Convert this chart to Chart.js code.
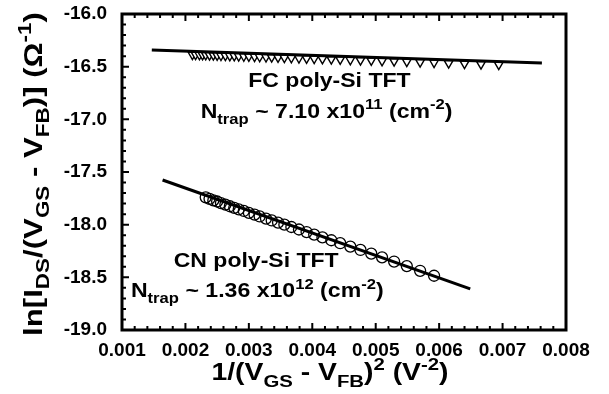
<!DOCTYPE html>
<html>
<head>
<meta charset="utf-8">
<script src="https://cdn.jsdelivr.net/npm/chart.js@4.4.1/dist/chart.umd.min.js"></script>
<style>
  html, body { margin: 0; padding: 0; background: #fff; }
  #wrap { width: 609px; height: 394px; }
</style>
</head>
<body>
<div id="wrap"><canvas id="trapChart" width="609" height="394"></canvas></div>
<script>
// x = 1/(VGS - VFB)^2 , y = ln[IDS/(VGS - VFB)]
const fcX = [0.00211, 0.00216, 0.00222, 0.00227, 0.00232, 0.00238, 0.00244, 0.00250, 0.00256, 0.00263,
             0.00270, 0.00277, 0.00284, 0.00292, 0.00300, 0.00309, 0.00317, 0.00327, 0.00336, 0.00346,
             0.00356, 0.00367, 0.00379, 0.00391, 0.00403, 0.00416, 0.00430, 0.00444, 0.00460, 0.00476,
             0.00493, 0.00510, 0.00529, 0.00549, 0.00570, 0.00592, 0.00615, 0.00640, 0.00666, 0.00694];
const fcY = [-16.385, -16.386, -16.387, -16.388, -16.389, -16.390, -16.391, -16.393, -16.394, -16.395,
             -16.397, -16.398, -16.399, -16.401, -16.403, -16.404, -16.406, -16.408, -16.410, -16.412,
             -16.414, -16.416, -16.418, -16.421, -16.423, -16.426, -16.429, -16.431, -16.435, -16.438,
             -16.441, -16.445, -16.448, -16.452, -16.457, -16.461, -16.466, -16.471, -16.476, -16.481];

const cnX = [0.00232, 0.00238, 0.00244, 0.00250, 0.00256, 0.00263, 0.00270, 0.00277, 0.00284, 0.00292,
             0.00300, 0.00309, 0.00317, 0.00327, 0.00336, 0.00346, 0.00356, 0.00367, 0.00379, 0.00391,
             0.00403, 0.00416, 0.00430, 0.00444, 0.00460, 0.00476, 0.00493, 0.00510, 0.00529, 0.00549,
             0.00570, 0.00592];
const cnY = [-17.740, -17.755, -17.770, -17.780, -17.795, -17.810, -17.825, -17.840, -17.855, -17.870,
             -17.888, -17.905, -17.922, -17.942, -17.960, -17.980, -18.000, -18.022, -18.046, -18.070,
             -18.094, -18.120, -18.148, -18.176, -18.208, -18.240, -18.275, -18.310, -18.350, -18.393,
             -18.438, -18.485];

// linear fits (end points)
const fcFitX = [0.00147, 0.00762];
const fcFitY = [-16.342, -16.465];
const cnFitX = [0.00164, 0.00649];
const cnFitY = [-17.576, -18.610];

const xTickLabels = ['0.001', '0.002', '0.003', '0.004', '0.005', '0.006', '0.007', '0.008'];
const yTickLabels = ['-19.0', '-18.5', '-18.0', '-17.5', '-17.0', '-16.5', '-16.0'];

const FONT = '"Liberation Sans", Arial, Helvetica, sans-serif';
const pts = (xs, ys) => xs.map((x, i) => ({ x: x, y: ys[i] }));

// text with sub/superscripts
function drawRich(ctx, parts, x, y, size, opt) {
  const sx = opt.stretch || 1.15, sr = opt.subRatio || 0.72;
  ctx.save();
  ctx.translate(x, y);
  if (opt.rotate) ctx.rotate(opt.rotate);
  ctx.scale(sx, 1);
  ctx.fillStyle = '#000';
  ctx.textBaseline = 'alphabetic';
  ctx.textAlign = 'left';
  const segs = parts.map(([t, k]) => {
    const fs = k ? size * sr : size;
    ctx.font = 'bold ' + fs + 'px ' + FONT;
    return { t: t, k: k, fs: fs, w: ctx.measureText(t).width };
  });
  const total = segs.reduce((a, s) => a + s.w, 0);
  let cx = opt.align === 'center' ? -total / 2 : 0;
  segs.forEach(s => {
    ctx.font = 'bold ' + s.fs + 'px ' + FONT;
    const dy = s.k === 'sub' ? size * 0.28 : (s.k === 'sup' ? -size * 0.42 : 0);
    ctx.fillText(s.t, cx, dy);
    cx += s.w;
  });
  ctx.restore();
}

const frameTicks = {
  id: 'frameTicks',
  afterDatasetsDraw(chart) {
    const { ctx, chartArea: a, scales: { x, y } } = chart;
    ctx.save();
    ctx.strokeStyle = '#000';
    ctx.lineWidth = 2;
    ctx.beginPath();
    for (let i = 0; i <= 35; i++) {
      const px = x.getPixelForValue(0.001 + i * 0.0002);
      const len = i % 5 === 0 ? 7 : 4;
      ctx.moveTo(px, a.bottom); ctx.lineTo(px, a.bottom - len);
      ctx.moveTo(px, a.top); ctx.lineTo(px, a.top + len);
    }
    for (let i = 0; i <= 30; i++) {
      const py = y.getPixelForValue(-19 + i * 0.1);
      const len = i % 5 === 0 ? 7 : 4;
      ctx.moveTo(a.left, py); ctx.lineTo(a.left + len, py);
    }
    ctx.stroke();
    ctx.lineWidth = 3;
    ctx.strokeRect(a.left, a.top, a.right - a.left, a.bottom - a.top);
    ctx.restore();
  },
  afterDraw(chart) {
    const { ctx, scales: { x, y } } = chart;
    drawRich(ctx, [['FC poly-Si TFT', '']],
      x.getPixelForValue(0.00427), y.getPixelForValue(-16.69), 20, { align: 'center' });
    drawRich(ctx, [['N', ''], ['trap', 'sub'], [' ~ 7.10 x10', ''], ['11', 'sup'], [' (cm', ''], ['-2', 'sup'], [')', '']],
      x.getPixelForValue(0.00224), y.getPixelForValue(-16.99), 21, { align: 'left', stretch: 1.1 });
    drawRich(ctx, [['CN poly-Si TFT', '']],
      x.getPixelForValue(0.003115), y.getPixelForValue(-18.40), 20, { align: 'center' });
    drawRich(ctx, [['N', ''], ['trap', 'sub'], [' ~ 1.36 x10', ''], ['12', 'sup'], [' (cm', ''], ['-2', 'sup'], [')', '']],
      x.getPixelForValue(0.00114), y.getPixelForValue(-18.69), 21, { align: 'left', stretch: 1.1 });

    // axis titles
    drawRich(ctx, [['1/(V', ''], ['GS', 'sub'], [' - V', ''], ['FB', 'sub'], [')', ''], ['2', 'sup'], [' (V', ''], ['-2', 'sup'], [')', '']],
      330, 380, 24, { align: 'center', stretch: 1.18 });
    drawRich(ctx, [['ln[I', ''], ['DS', 'sub'], ['/(V', ''], ['GS', 'sub'], [' - V', ''], ['FB', 'sub'], [')] (\u03A9', ''], ['-1', 'sup'], [')', '']],
      42, 174, 26, { align: 'center', rotate: -Math.PI / 2, stretch: 1.2 });
  }
};

const ctx = document.getElementById('trapChart').getContext('2d');
new Chart(ctx, {
  data: {
    datasets: [
      { type: 'line', label: 'FC fit', data: pts(fcFitX, fcFitY), borderColor: '#000', borderWidth: 3,
        pointRadius: 0, fill: false, order: 0 },
      { type: 'line', label: 'CN fit', data: pts(cnFitX, cnFitY), borderColor: '#000', borderWidth: 3,
        pointRadius: 0, fill: false, order: 0 },
      { type: 'scatter', label: 'FC poly-Si TFT', data: pts(fcX, fcY), pointStyle: 'triangle', rotation: 180,
        pointRadius: 5, borderColor: '#000', borderWidth: 1.4, backgroundColor: '#fff', order: 1 },
      { type: 'scatter', label: 'CN poly-Si TFT', data: pts(cnX, cnY), pointStyle: 'circle',
        pointRadius: 5.5, borderColor: '#000', borderWidth: 1.3, backgroundColor: 'rgba(0,0,0,0)', order: 1 }
    ]
  },
  options: {
    responsive: false,
    devicePixelRatio: 1,
    animation: false,
    layout: { padding: { top: 0, right: 43, left: 0, bottom: 0 } },
    plugins: { legend: { display: false }, tooltip: { enabled: false } },
    scales: {
      x: {
        type: 'linear', min: 0.001, max: 0.008,
        grid: { display: false, drawTicks: false },
        border: { display: false },
        afterFit: s => { s.height = 64; },
        ticks: {
          stepSize: 0.001, autoSkip: false, maxRotation: 0, padding: 9, color: '#000',
          font: { family: FONT, size: 19, weight: 'bold' },
          callback: (v, i) => xTickLabels[i]
        }
      },
      y: {
        type: 'linear', min: -19, max: -16,
        grid: { display: false, drawTicks: false },
        border: { display: false },
        afterFit: s => { s.width = 122; s.paddingTop = 14; s.paddingBottom = 0; },
        ticks: {
          stepSize: 0.5, autoSkip: false, padding: 15, color: '#000',
          font: { family: FONT, size: 19, weight: 'bold' },
          callback: (v, i) => yTickLabels[i]
        }
      }
    }
  },
  plugins: [frameTicks]
});
</script>
</body>
</html>
